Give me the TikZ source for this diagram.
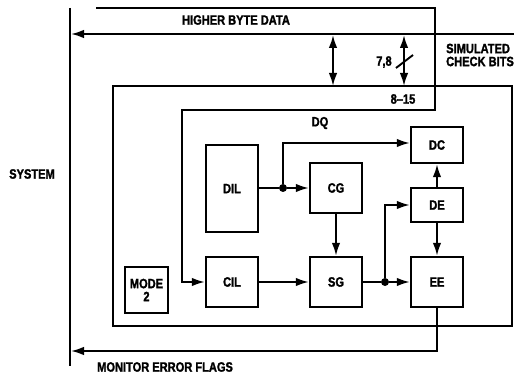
\documentclass[tikz,border=0pt]{standalone}
\usepackage{fontspec}
\setmainfont{Liberation Sans}[FakeStretch=0.82, BoldFeatures={FakeBold=1.6}]
\usetikzlibrary{arrows.meta}
\begin{document}
\begin{tikzpicture}[x=1pt,y=-1pt,
  every node/.style={font=\fontsize{13.5}{14}\selectfont\bfseries, inner sep=0pt},
  blk/.style={draw, line width=2.4pt, minimum width=52pt, align=center},
  ln/.style={line width=1.9pt},
  arr/.style={ln, -{Latex[length=13pt,width=8.5pt]}},
  darr/.style={ln, {Latex[length=13pt,width=8.5pt]}-{Latex[length=13pt,width=8.5pt]}},
  dot/.style={circle, fill, minimum size=8pt}]
\useasboundingbox (0,0) rectangle (514,374);
% blocks
\node[blk, minimum height=87pt] (DIL) at (232,188.5) {DIL};
\node[blk, minimum height=50pt] (CG) at (336,188) {CG};
\node[blk, minimum height=36pt] (DC) at (437,145) {DC};
\node[blk, minimum height=34pt] (DE) at (437,205) {DE};
\node[blk, minimum height=50pt] (CIL) at (232,282) {CIL};
\node[blk, minimum height=50pt] (SG) at (336,282) {SG};
\node[blk, minimum height=50pt] (EE) at (437,282) {EE};
\node[blk, minimum width=43pt, minimum height=46pt] (M2) at (146.5,290) {MODE\\[-1pt]2};
% system line
\coordinate (s1) at (70,8);
\coordinate (s2) at (70,366);
\draw[ln] (s1) -- (s2);
% outer box
\coordinate (ob1) at (113,86);
\coordinate (ob2) at (512,326);
\draw[ln] (ob1) rectangle (ob2);
% bus outline
\coordinate (b1) at (96,8);
\coordinate (b2) at (435,8);
\coordinate (b3) at (435,110);
\coordinate (b4) at (182,110);
\draw[arr] (b1) -- (b2) -- (b3) -- (b4) |- (CIL.west);
% higher byte data arrow
\coordinate (h1) at (514,34);
\coordinate (h2) at (71,34);
\draw[arr] (h1) -- (h2);
% double arrows
\coordinate (d1a) at (333,35);
\coordinate (d1b) at (333,86);
\coordinate (d2a) at (404,35);
\coordinate (d2b) at (404,86);
\draw[darr] (d1a) -- (d1b);
\draw[darr] (d2a) -- (d2b);
\coordinate (sl1) at (396,68);
\coordinate (sl2) at (413,55);
\draw[ln] (sl1) -- (sl2);
% internal connections
\node[dot] (j1) at (283,188) {};
\draw[ln] (DIL.east |- j1) -- (j1);
\draw[arr] (j1) -- (CG.west |- j1);
\draw[arr] (j1) |- ([yshift=2pt]DC.west);
\draw[arr] (CG.south) -- (SG.north);
\draw[arr] (CIL) -- (SG);
\node[dot] (j2) at (385,282) {};
\draw[ln] (SG.east) -- (j2);
\draw[arr] (j2) -- (EE.west);
\draw[arr] (j2) |- (DE.west);
\draw[arr] (DE) -- (DC);
\draw[arr] (DE) -- (EE);
\coordinate (m1) at (437,351);
\coordinate (m2) at (71,351);
\draw[arr] (EE.south) -- (m1) -- (m2);
% labels
\node (tHB) at (236,20) {HIGHER BYTE DATA};
\node[anchor=west, align=left] (tSC) at (446,55) {SIMULATED\\[-1pt]CHECK BITS};
\node (t78) at (384,62) {7,8};
\node (t815) at (403,99) {8–15};
\node (tDQ) at (320,123) {DQ};
\node (tSYS) at (32,174) {SYSTEM};
\node[anchor=west] (tMEF) at (97,367) {MONITOR ERROR FLAGS};
\end{tikzpicture}
\end{document}
